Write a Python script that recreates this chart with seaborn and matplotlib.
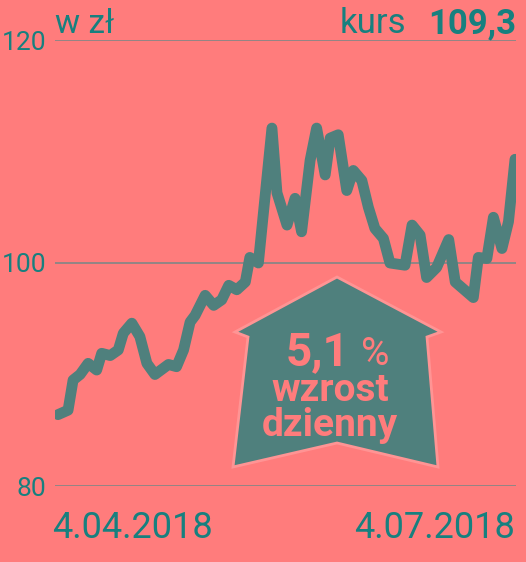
import seaborn as sns
import matplotlib.pyplot as plt
from matplotlib.patches import Polygon
from matplotlib import patheffects as pe
from matplotlib.transforms import ScaledTranslation

# notowania: dzień od 4.04.2018 i kurs w zł
dzien = [0, 2, 3, 4.4, 6, 7.7, 8.7, 10.4, 12, 13, 14.7, 16.3, 17.7, 19.3, 22,
         23.6, 25, 26.3, 27.3, 29.3, 31, 32.6, 34, 35.6, 37.3, 38.2, 39.9,
         42.6, 43.6, 45.6, 47.2, 48.5, 50.2, 51.5, 53.2, 54.2, 55.8, 57.5,
         58.8, 60.5, 61.8, 63.1, 64.8, 66.1, 69.1, 70.5, 72.1, 73.4, 75.4,
         77.8, 79.1, 82.7, 83.7, 85.4, 86.7, 88.4, 89.7, 91]
kurs = [86.4, 86.8, 89.5, 90.0, 91.0, 90.4, 91.9, 91.7, 92.2, 93.7, 94.6,
        93.4, 91.0, 90.0, 90.9, 90.7, 92.2, 94.7, 95.3, 97.1, 96.2, 96.7,
        98.0, 97.6, 98.3, 100.5, 100.0, 112.1, 106.3, 103.4, 105.8, 102.8,
        109.2, 112.1, 107.9, 111.2, 111.5, 106.5, 108.3, 107.4, 105.0, 103.1,
        102.2, 100.0, 99.8, 103.4, 102.5, 98.7, 99.6, 102.1, 98.3, 96.9,
        100.5, 100.4, 104.1, 101.3, 103.7, 109.3]
y_ticks = [80, 100, 120]
x_ticks = [0, 91]
x_labels = ["4.04.2018", "4.07.2018"]

bg = "#ff7c7c"
teal = "#17807f"
line_c = "#4f807d"

sns.set_theme(style="white")
plt.rcParams['font.family'] = ['Roboto', 'DejaVu Sans']

W, H = 526, 562
fig = plt.figure(figsize=(W / 100, H / 100), dpi=100, facecolor=bg)
ax = fig.add_axes([55 / W, 1 - 486 / H, 461 / W, 446 / H])
ax.set_facecolor(bg)

sns.lineplot(x=dzien, y=kurs, ax=ax, color=line_c, linewidth=7.8,
             solid_capstyle="round", solid_joinstyle="round", zorder=3)

ax.set_xlim(-0.6, 91.2)
ax.set_ylim(80, 120)
ax.set_yticks(y_ticks)
ax.set_xticks(x_ticks)
ax.set_xticklabels(x_labels)
ax.grid(axis="y", color="#938585", linewidth=1.4)
ax.grid(axis="x", visible=False)
sns.despine(ax=ax, left=True, bottom=True)
ax.tick_params(axis="y", length=0, pad=6, labelsize=19, labelcolor=teal)
ax.tick_params(axis="x", length=0, pad=17, labelsize=26, labelcolor=teal)
xl = ax.get_xticklabels()
xl[0].set_horizontalalignment("left")
xl[0].set_transform(xl[0].get_transform()
                    + ScaledTranslation(-0.06, 0, fig.dpi_scale_trans))
xl[1].set_horizontalalignment("right")

# nagłówek
fig.text(55 / W, 1 - 33 / H, "w zł", color=teal, fontsize=24,
         ha="left", va="baseline")
fig.text(516 / W, 1 - 33 / H, "109,3", color=teal, fontsize=25,
         fontweight="bold", ha="right", va="baseline")
fig.text(406 / W, 1 - 33 / H, "kurs", color=teal, fontsize=25,
         ha="right", va="baseline")

# strzałka
pts = [(337, 277), (441, 332), (427, 337), (438, 467), (337, 443),
       (233, 467), (248, 337), (235, 332)]
arrow = Polygon([(x / W, 1 - y / H) for x, y in pts], closed=True,
                transform=fig.transFigure, facecolor=line_c,
                edgecolor="#ff9494", linewidth=2, zorder=5)
arrow.set_path_effects([pe.SimplePatchShadow(offset=(0, 0), alpha=0.35,
                                             shadow_rgbFace="#a04040"),
                        pe.Normal()])
fig.patches.append(arrow)

fig.text(350 / W, 1 - 365 / H, "5,1", color=bg, fontsize=33,
         fontweight="bold", ha="right", va="baseline", zorder=6)
fig.text(361 / W, 1 - 365 / H, "%", color=bg, fontsize=28,
         ha="left", va="baseline", zorder=6)
fig.text(330 / W, 1 - 401 / H, "wzrost", color=bg, fontsize=28,
         fontweight="bold", ha="center", va="baseline", zorder=6)
fig.text(330 / W, 1 - 436 / H, "dzienny", color=bg, fontsize=28,
         fontweight="bold", ha="center", va="baseline", zorder=6)

fig.savefig("out.png", dpi=100, facecolor=bg)
